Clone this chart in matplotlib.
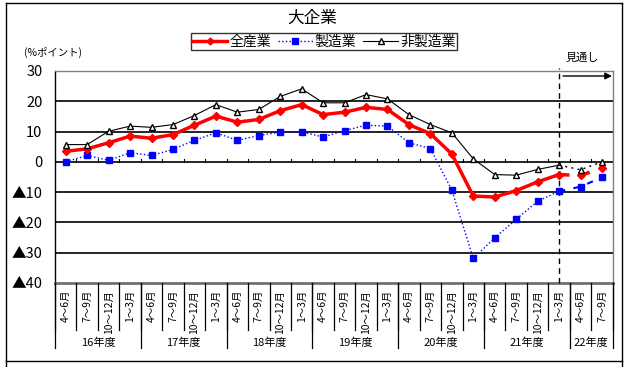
import matplotlib
matplotlib.use("Agg")
import matplotlib.pyplot as plt
from matplotlib.lines import Line2D
from matplotlib.transforms import blended_transform_factory
import numpy as np

plt.rcParams['font.family'] = ['Noto Sans CJK JP', 'DejaVu Sans']

quarters = ["4～6月", "7～9月", "10～12月", "1～3月"]
years = ["16年度", "17年度", "18年度", "19年度", "20年度", "21年度", "22年度"]
year_quarters = [4, 4, 4, 4, 4, 4, 2]
all_ind = [3.5, 4.3, 6.3, 8.5, 7.8, 9.0, 12.1, 15.1, 13.1, 14.0, 16.9, 18.9,
           15.6, 16.4, 18.0, 17.3, 12.3, 9.3, 2.6, -11.3, -11.6, -9.5, -6.6, -4.2,
           -4.5, -2.0]
mfg = [0.0, 2.1, 0.5, 3.0, 2.1, 4.1, 7.1, 9.6, 7.1, 8.7, 9.8, 9.9,
       8.2, 10.3, 12.1, 11.8, 6.3, 4.4, -9.3, -31.9, -25.1, -19.0, -13.0, -9.7,
       -8.2, -5.1]
nonmfg = [5.7, 5.7, 10.1, 11.8, 11.4, 12.3, 15.3, 18.9, 16.4, 17.3, 21.6, 24.1,
          19.5, 19.5, 22.2, 20.8, 15.6, 12.3, 9.6, 1.0, -4.2, -4.4, -2.5, -1.1,
          -2.6, 0.0]
n_actual = 24  # last actual point index 23; rest is forecast
ytick_vals = [30, 20, 10, 0, -10, -20, -30, -40]
ytick_labels = ["30", "20", "10", "0", "▲10", "▲20", "▲30", "▲40"]
series_names = ["全産業", "製造業", "非製造業"]

W, H = 630, 367
fig = plt.figure(figsize=(W / 100, H / 100), dpi=100)

def fy(py):
    return 1 - py / H

def fx(px):
    return px / W

L, R, T, B = 55, 612.7, 71, 283
ax = fig.add_axes([fx(L), fy(B), fx(R - L), (B - T) / H])
n = len(all_ind)
x = np.arange(n)
ax.set_xlim(-0.5, n - 0.5)
ax.set_ylim(-40, 30)

# grid lines
for v in [20, 10, 0, -10, -20, -30]:
    ax.axhline(v, color='black', lw=1.2, zorder=1)
for s in ['top', 'right']:
    ax.spines[s].set_color('#808080')
    ax.spines[s].set_linewidth(1.0)
ax.spines['bottom'].set_color('#707070')
ax.spines['bottom'].set_linewidth(2.0)
ax.spines['left'].set_color('black')
ax.spines['left'].set_linewidth(1.0)
ax.set_xticks([])
ax.set_yticks(ytick_vals)
ax.set_yticklabels(ytick_labels, fontsize=10.5)
ax.tick_params(axis='y', length=0, pad=9)

# small category ticks on zero line
for b in np.arange(n + 1) - 0.5:
    ax.plot([b, b], [0, 1.0], color='black', lw=0.8, zorder=2)

RED_MS, BLUE_MS, TRI_MS = 4.2, 4.5, 5.0
# actual
a = slice(0, n_actual)
ax.plot(x[a], np.array(all_ind)[a], color='#ff0000', lw=2.5, marker='D', ms=RED_MS,
        mec='#ff0000', mfc='#ff0000', zorder=5)
ax.plot(x[a], np.array(mfg)[a], color='#0000ff', lw=1.0, ls=':', marker='s', ms=BLUE_MS,
        mec='#0000ff', mfc='#0000ff', zorder=4)
ax.plot(x[a], np.array(nonmfg)[a], color='black', lw=0.8, marker='^', ms=TRI_MS,
        mec='black', mfc='white', zorder=6)
# forecast
f = slice(n_actual - 1, n)
fx_idx = x[f]
ax.plot(fx_idx, np.array(all_ind)[f], color='#ff0000', lw=2.5, ls=(0, (3, 3)), zorder=5)
ax.plot(fx_idx[1:], np.array(all_ind)[f][1:], ls='none', marker='D', ms=RED_MS,
        mec='#ff0000', mfc='#ff0000', zorder=5)
ax.plot(fx_idx, np.array(mfg)[f], color='#0000ff', lw=1.5, ls=(0, (3, 4)), zorder=4)
ax.plot(fx_idx[1:], np.array(mfg)[f][1:], ls='none', marker='s', ms=BLUE_MS,
        mec='#0000ff', mfc='#0000ff', zorder=4)
ax.plot(fx_idx, np.array(nonmfg)[f], color='black', lw=1.0, ls=(0, (1.5, 3)), zorder=6)
ax.plot(fx_idx[1:], np.array(nonmfg)[f][1:], ls='none', marker='^', ms=TRI_MS,
        mec='black', mfc='white', zorder=6)

# forecast divider
ax.plot([n_actual - 1, n_actual - 1], [-40, 31], color='black', lw=1.0,
        ls=(0, (4, 3)), clip_on=False, zorder=3)
ax.annotate('', xy=(fx(612), fy(76)), xytext=(fx(563), fy(76)),
            xycoords='figure fraction', textcoords='figure fraction',
            arrowprops=dict(arrowstyle='-|>', color='black', lw=1.0,
                            mutation_scale=10, shrinkA=0, shrinkB=0))
fig.text(fx(566), fy(58), "見通し", fontsize=8, va='center', ha='left')

# category table
tr = blended_transform_factory(ax.transData, fig.transFigure)
pos = 0
for yname, nq in zip(years, year_quarters):
    for k in range(nq):
        ax.text(pos + k, fy(290), quarters[k], rotation=90, ha='center', va='top',
                fontsize=7.5, transform=tr)
    ax.text(pos + (nq - 1) / 2, fy(343), yname, ha='center', va='center',
            fontsize=8, transform=tr)
    pos += nq
for b in np.arange(n + 1) - 0.5:
    fig.add_artist(Line2D([b, b], [fy(B), fy(330)], transform=tr, color='black', lw=0.9))
yb = np.cumsum([0] + year_quarters) - 0.5
for b in yb:
    fig.add_artist(Line2D([b, b], [fy(B), fy(348)], transform=tr, color='black', lw=0.9))

# titles
fig.text(fx(312), fy(18), "大企業", fontsize=12, ha='center', va='center')
fig.text(fx(24), fy(52), "(%ポイント)", fontsize=7.5, ha='left', va='center')

# legend
handles = [
    Line2D([], [], color='#ff0000', lw=2.5, marker='D', ms=3.5, mec='#ff0000'),
    Line2D([], [], color='#0000ff', lw=1.0, ls=':', marker='s', ms=5, mec='#0000ff'),
    Line2D([], [], color='black', lw=0.8, marker='^', ms=4, mec='black', mfc='white'),
]
leg = fig.legend(handles, series_names, loc='center', bbox_to_anchor=(fx(324), fy(41.5)),
                 ncol=3, fontsize=10, frameon=True, fancybox=False, borderpad=0.1,
                 handlelength=2.5, handletextpad=0.15, columnspacing=0.5,
                 borderaxespad=0)
leg.get_frame().set_edgecolor('black')
leg.get_frame().set_linewidth(1.0)

# outer frame
fig.add_artist(Line2D([fx(5.5), fx(622)], [fy(3), fy(3)], color='black', lw=1.0))
fig.add_artist(Line2D([fx(5.5), fx(622)], [fy(361), fy(361)], color='black', lw=1.0))
fig.add_artist(Line2D([fx(5.5), fx(5.5)], [fy(3), 0], color='black', lw=1.0))
fig.add_artist(Line2D([fx(622), fx(622)], [fy(3), 0], color='black', lw=1.0))

fig.savefig("out.png", dpi=100)
